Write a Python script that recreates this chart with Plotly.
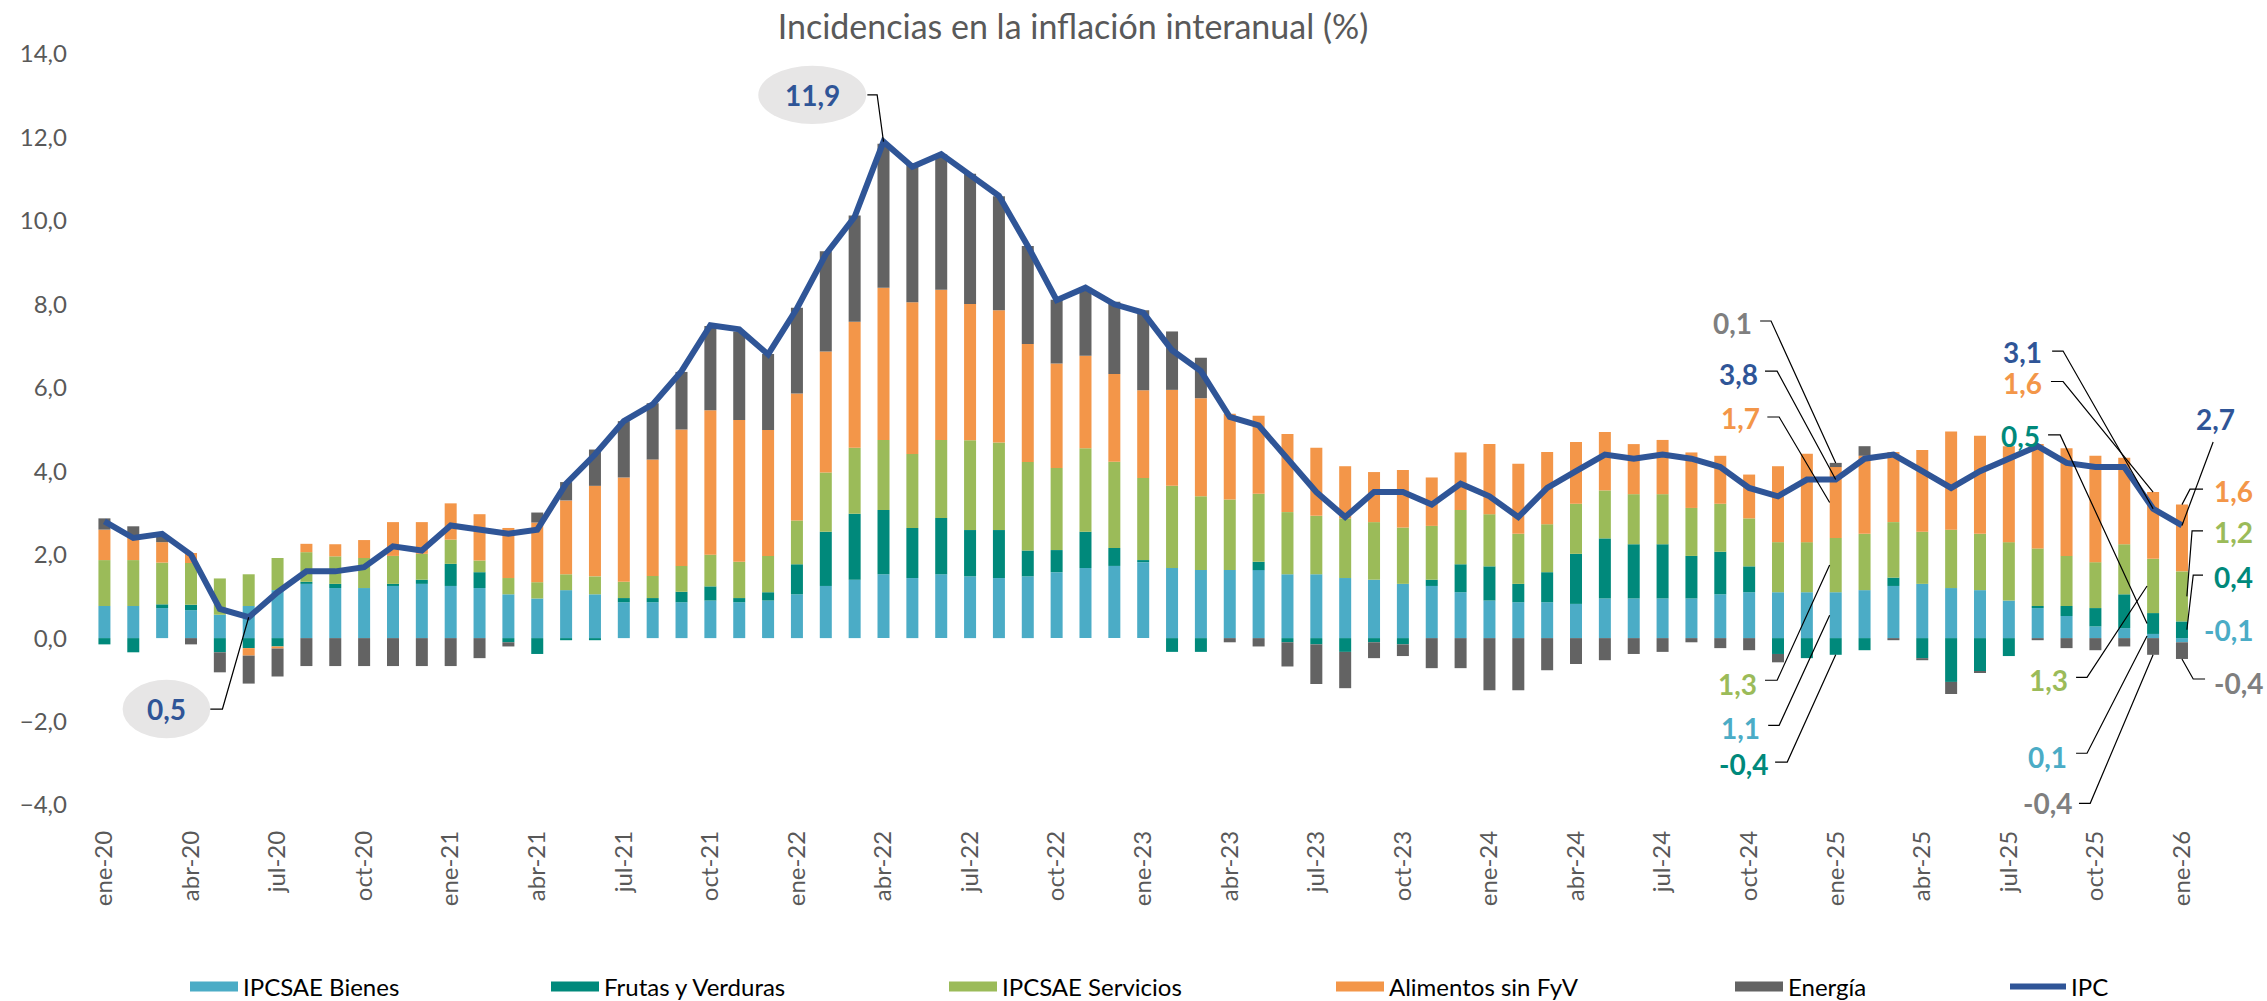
import plotly.graph_objects as go

# --- Datos: incidencias en la inflación interanual (puntos porcentuales) ---
abrev = ["ene", "feb", "mar", "abr", "may", "jun", "jul", "ago", "sep", "oct", "nov", "dic"]
meses = [f"{m}-{a}" for a in range(20, 26) for m in abrev] + ["ene-26"]

bienes = [
    0.77, 0.77, 0.72, 0.67, 0.56, 0.77, 1.15, 1.30, 1.20, 1.20, 1.25, 1.30,
    1.25, 1.20, 1.05, 0.95, 1.15, 1.05, 0.86, 0.86, 0.86, 0.90, 0.86, 0.90,
    1.05, 1.25, 1.40, 1.53, 1.44, 1.53, 1.48, 1.44, 1.48, 1.58, 1.68, 1.73,
    1.82, 1.68, 1.63, 1.63, 1.63, 1.53, 1.53, 1.44, 1.40, 1.30, 1.25, 1.10,
    0.90, 0.86, 0.86, 0.82, 0.95, 0.95, 0.95, 0.95, 1.05, 1.10, 1.10, 1.10,
    1.10, 1.15, 1.25, 1.30, 1.20, 1.15, 0.90, 0.72, 0.53, 0.28, 0.24, 0.10,
    -0.10,
]
frutas = [
    -0.15, -0.34, 0.09, 0.13, -0.34, -0.24, -0.20, 0.05, 0.10, 0.00, 0.05, 0.10,
    0.53, 0.38, -0.10, -0.38, -0.05, -0.05, 0.10, 0.10, 0.25, 0.34, 0.10, 0.20,
    0.72, 1.30, 1.58, 1.54, 1.20, 1.35, 1.11, 1.15, 0.62, 0.53, 0.87, 0.43,
    0.05, -0.33, -0.33, 0.00, 0.20, -0.10, -0.15, -0.33, -0.10, -0.15, 0.15, 0.67,
    0.82, 0.44, 0.72, 1.20, 1.44, 1.30, 1.30, 1.02, 1.02, 0.62, -0.38, -0.48,
    -0.40, -0.29, 0.20, -0.48, -1.05, -0.81, -0.43, 0.05, 0.24, 0.44, 0.81, 0.50,
    0.40,
]
servicios = [
    1.10, 1.10, 1.00, 1.00, 0.87, 0.76, 0.77, 0.71, 0.66, 0.72, 0.67, 0.62,
    0.58, 0.28, 0.39, 0.39, 0.38, 0.43, 0.39, 0.53, 0.62, 0.76, 0.87, 0.87,
    1.05, 1.42, 1.58, 1.68, 1.77, 1.87, 2.15, 2.10, 2.12, 1.97, 2.00, 2.07,
    1.97, 1.97, 1.77, 1.69, 1.63, 1.49, 1.40, 1.43, 1.38, 1.35, 1.29, 1.30,
    1.25, 1.20, 1.15, 1.20, 1.15, 1.20, 1.20, 1.15, 1.15, 1.15, 1.20, 1.20,
    1.30, 1.35, 1.33, 1.25, 1.40, 1.35, 1.40, 1.38, 1.20, 1.10, 1.20, 1.30,
    1.20,
]
alimentos = [
    0.73, 0.55, 0.49, 0.24, 0.00, -0.18, -0.05, 0.20, 0.29, 0.43, 0.81, 0.76,
    0.87, 1.11, 1.20, 1.43, 1.77, 2.17, 2.50, 2.79, 3.27, 3.46, 3.40, 3.02,
    3.04, 2.90, 3.02, 3.65, 3.64, 3.60, 3.27, 3.17, 2.83, 2.50, 2.22, 2.10,
    2.10, 2.30, 2.35, 2.06, 1.87, 1.87, 1.63, 1.25, 1.20, 1.38, 1.16, 1.38,
    1.68, 1.68, 1.73, 1.48, 1.40, 1.20, 1.30, 1.33, 1.15, 1.05, 1.82, 2.12,
    1.70, 1.87, 1.68, 1.96, 2.35, 2.35, 2.30, 2.50, 2.58, 2.55, 2.07, 1.60,
    1.60,
]
energia = [
    0.27, 0.26, 0.15, -0.15, -0.48, -0.67, -0.67, -0.67, -0.67, -0.67, -0.67, -0.67,
    -0.67, -0.48, -0.10, 0.24, 0.44, 0.87, 1.35, 1.35, 1.38, 2.02, 2.12, 1.82,
    2.06, 2.40, 2.55, 3.45, 3.29, 3.24, 3.12, 2.73, 2.35, 1.53, 1.63, 1.73,
    1.92, 1.40, 0.97, -0.10, -0.20, -0.58, -0.95, -0.87, -0.38, -0.28, -0.72, -0.72,
    -1.25, -1.25, -0.77, -0.62, -0.53, -0.38, -0.33, -0.10, -0.24, -0.29, -0.20, 0.00,
    0.10, 0.23, -0.05, -0.05, -0.29, -0.02, 0.00, -0.05, -0.24, -0.29, -0.20, -0.40,
    -0.40,
]
ipc = [
    2.8, 2.4, 2.5, 2.0, 0.7, 0.5, 1.1, 1.6, 1.6, 1.7, 2.2, 2.1,
    2.7, 2.6, 2.5, 2.6, 3.7, 4.4, 5.2, 5.6, 6.4, 7.5, 7.4, 6.8,
    7.9, 9.2, 10.1, 11.9, 11.3, 11.6, 11.1, 10.6, 9.4, 8.1, 8.4, 8.0,
    7.8, 6.9, 6.4, 5.3, 5.1, 4.3, 3.5, 2.9, 3.5, 3.5, 3.2, 3.7,
    3.4, 2.9, 3.6, 4.0, 4.4, 4.3, 4.4, 4.3, 4.1, 3.6, 3.4, 3.8,
    3.8, 4.3, 4.4, 4.0, 3.6, 4.0, 4.3, 4.6, 4.2, 4.1, 4.1, 3.1,
    2.7,
]

# --- Estilo ---
FUENTE = "Lato, 'Open Sans', sans-serif"
GRIS_TXT = "#595959"
C_IPC = "#2F5597"
componentes = [
    ("IPCSAE Bienes", bienes, "#4BACC6"),
    ("Frutas y Verduras", frutas, "#00897B"),
    ("IPCSAE Servicios", servicios, "#9BBB59"),
    ("Alimentos sin FyV", alimentos, "#F39649"),
    ("Energía", energia, "#636363"),
]
COL_ETQ = {
    "bienes": "#4BACC6", "frutas": "#00897B", "servicios": "#9BBB59",
    "alimentos": "#F39649", "energia": "#7F7F7F", "ipc": C_IPC,
}
SERIE = {"bienes": bienes, "frutas": frutas, "servicios": servicios,
         "alimentos": alimentos, "energia": energia}

W, H = 2267, 1001
PX_IZQ, PX_DER = 89.6, 2262.0      # borde izquierdo/derecho del área de trazado
PASO = 28.86                        # píxeles por mes
M_TOP, M_BOT = 54.2, 196.2
T_ETQ = 28                          # tamaño de las etiquetas de valor

# leyendas independientes, una por serie (inicio del texto en px)
inicio_texto = [243, 604, 1002, 1389, 1788, 2071]
ancho_simbolo = [48, 48, 48, 48, 48, 56]
nombres_leyenda = ["legend2", "legend3", "legend4", "legend5", "legend6", "legend7"]

fig = go.Figure()
for k, (nombre, vals, col) in enumerate(componentes):
    fig.add_trace(go.Bar(
        x=meses, y=vals, name=nombre, showlegend=False,
        marker=dict(color=col, line=dict(width=0)),
    ))
# muestras rectangulares para la leyenda de las barras
for k, (nombre, vals, col) in enumerate(componentes):
    fig.add_trace(go.Scatter(
        x=[None], y=[None], name=nombre, mode="lines", legend=nombres_leyenda[k],
        line=dict(color=col, width=20),
    ))
fig.add_trace(go.Scatter(
    x=meses, y=ipc, name="IPC", mode="lines", legend=nombres_leyenda[5],
    line=dict(color=C_IPC, width=6),
))


def tramo(serie, i):
    """Límites (inferior, superior) del segmento apilado de una serie en el mes i."""
    pos = neg = 0.0
    for _, vals, _ in componentes:
        v = vals[i]
        if v >= 0:
            lo, hi = pos, pos + v
            pos += v
        else:
            lo, hi = neg + v, neg
            neg += v
        if vals is serie:
            return lo, hi, v


def fmt(v):
    return f"{v:.1f}".replace(".", ",").replace("-0,0", "0,0")


# etiquetas con línea guía: (serie, mes, texto_x, texto_y, inicio_x, codo_x, linea_y, anclaje, desplazamiento_x)
etiquetas = [
    ("energia", 60, 56.41, 7.55, 57.38, 57.76, 7.60, "ext", 0.0),
    ("ipc", 60, 56.62, 6.33, 57.55, 57.97, 6.40, "ipc", 0.0),
    ("alimentos", 60, 56.69, 5.28, 57.63, 58.04, 5.30, "med", -0.21),
    ("servicios", 60, 56.59, -1.10, 57.55, 57.97, -1.01, "med", -0.21),
    ("bienes", 60, 56.69, -2.16, 57.66, 58.04, -2.09, "med", -0.21),
    ("frutas", 60, 56.80, -3.02, 57.90, 58.32, -2.97, "ext", 0.0),

    ("ipc", 71, 66.49, 6.86, 67.50, 67.88, 6.88, "ipc", 0.0),
    ("alimentos", 71, 66.49, 6.12, 67.46, 67.88, 6.15, "ext", 0.0),
    ("frutas", 71, 66.42, 4.84, 67.36, 67.78, 4.87, "med", -0.21),
    ("servicios", 71, 67.36, -1.01, 68.33, 68.71, -0.94, "med", -0.21),
    ("bienes", 71, 67.33, -2.85, 68.33, 68.71, -2.76, "med", -0.21),
    ("energia", 71, 67.33, -3.96, 68.43, 68.82, -3.96, "ext", 0.0),

    ("ipc", 72, 73.15, 5.25, 73.08, 73.08, 4.70, "ipc", 0.0),
    ("alimentos", 72, 73.77, 3.53, 72.73, 72.28, 3.57, "ext", 0.0),
    ("servicios", 72, 73.77, 2.54, 72.73, 72.35, 2.57, "med", 0.17),
    ("frutas", 72, 73.77, 1.46, 72.73, 72.39, 1.51, "med", 0.17),
    ("bienes", 72, 73.60, 0.19, None, None, None, None, 0.0),
    ("energia", 72, 73.95, -1.08, 72.80, 72.39, -0.98, "ext", 0.0),
]

anotaciones = []
formas = []
for serie, i, tx, ty, sx, ex, ly, modo, dx in etiquetas:
    if serie == "ipc":
        valor = ipc[i]
        fin_y = valor
    else:
        lo, hi, valor = tramo(SERIE[serie], i)
        if modo == "med":
            fin_y = (lo + hi) / 2
        else:
            fin_y = hi if valor >= 0 else lo
    anotaciones.append(dict(
        x=tx, y=ty, xref="x", yref="y", text=f"<b>{fmt(valor)}</b>", showarrow=False,
        xanchor="center", yanchor="middle",
        font=dict(family=FUENTE, size=T_ETQ, color=COL_ETQ[serie]),
    ))
    if modo is not None:
        formas.append(dict(
            type="path", xref="x", yref="y",
            path=f"M {sx},{ly} L {ex},{ly} L {i + dx},{fin_y}",
            line=dict(color="black", width=1.2),
        ))

# óvalos con el máximo y el mínimo del IPC
i_max = ipc.index(max(ipc))
i_min = ipc.index(min(ipc))
ovalos = [
    (i_max, 24.53, 13.02, 1.87, 26.44, 26.78),
    (i_min, 2.15, -1.70, 1.52, 3.67, 4.09),
]
for i, cx, cy, rx, sx, ex in ovalos:
    formas.append(dict(
        type="circle", xref="x", yref="y", x0=cx - rx, x1=cx + rx, y0=cy - 0.70, y1=cy + 0.70,
        fillcolor="#E7E6E6", line=dict(width=0), layer="above",
    ))
    formas.append(dict(
        type="path", xref="x", yref="y",
        path=f"M {sx},{cy} L {ex},{cy} L {i},{ipc[i]}",
        line=dict(color="black", width=1.2),
    ))
    anotaciones.append(dict(
        x=cx, y=cy, xref="x", yref="y", text=f"<b>{fmt(ipc[i])}</b>", showarrow=False,
        font=dict(family=FUENTE, size=T_ETQ, color=C_IPC),
    ))

leyendas = {}
for k, nombre in enumerate(nombres_leyenda):
    ancho = ancho_simbolo[k]
    izq = inicio_texto[k] - (ancho + 10)
    leyendas[nombre] = dict(
        x=izq / W, xref="container", xanchor="left",
        y=1 - 987 / H, yref="container", yanchor="middle",
        orientation="h", bgcolor="rgba(0,0,0,0)", itemwidth=ancho,
        font=dict(family=FUENTE, size=24, color="#000000"),
    )

rango_der = -0.5 + (PX_DER - PX_IZQ) / PASO

fig.update_layout(
    width=W, height=H, autosize=False,
    margin=dict(l=PX_IZQ, r=W - PX_DER, t=M_TOP, b=M_BOT, autoexpand=False),
    paper_bgcolor="white", plot_bgcolor="white",
    separators=", ",
    barmode="relative", bargap=0.584,
    title=dict(
        text="Incidencias en la inflación interanual (%)",
        x=1073 / W, xref="container", xanchor="center",
        y=1 - 27 / H, yref="container", yanchor="middle",
        font=dict(family=FUENTE, size=34, color=GRIS_TXT),
    ),
    xaxis=dict(
        type="category", categoryorder="array", categoryarray=meses,
        range=[-0.5, rango_der], tickmode="array", tickvals=meses[::3], ticktext=meses[::3],
        tickangle=-90, ticks="", showgrid=False, zeroline=False, showline=False,
        tickfont=dict(family=FUENTE, size=24, color=GRIS_TXT),
        ticklabelstandoff=20, automargin=False,
    ),
    yaxis=dict(
        range=[-4, 14], tick0=0, dtick=2, tickformat=".1f",
        ticks="", showgrid=False, zeroline=False, showline=False,
        tickfont=dict(family=FUENTE, size=24, color=GRIS_TXT),
        ticklabelstandoff=22, automargin=False,
    ),
    shapes=formas,
    annotations=anotaciones,
    hovermode=False,
    **leyendas,
)

fig.write_html("out.html")
